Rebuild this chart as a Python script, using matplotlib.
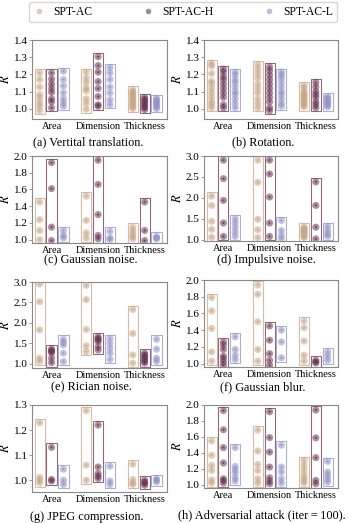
import matplotlib
matplotlib.use("Agg")
import matplotlib.pyplot as plt
from matplotlib.patches import Rectangle
from matplotlib.lines import Line2D

plt.rcParams['font.family'] = ['Liberation Serif', 'DejaVu Serif']
plt.rcParams['mathtext.fontset'] = 'stix'

categories = ["Area", "Dimension", "Thickness"]
series_names = ["SPT-AC", "SPT-AC-H", "SPT-AC-L"]
colors = ["#c8a686", "#6a3552", "#9393c6"]

# data[panel][category][series] -> list of R values
vert_translation = [
    [[1.208, 1.17, 1.127, 1.083, 1.062, 1.035, 1.014, 0.988],
     [1.208, 1.173, 1.144, 1.118, 1.095, 1.057, 1.04, 1.005],
     [1.218, 1.17, 1.132, 1.092, 1.057, 1.035, 1.014]],
    [[1.213, 1.178, 1.153, 1.121, 1.104, 1.057, 1.031, 0.997],
     [1.303, 1.251, 1.213, 1.158, 1.118, 1.071, 1.023, 1.014],
     [1.239, 1.208, 1.17, 1.127, 1.092, 1.052, 1.023]],
    [[1.11, 1.1, 1.09, 1.08, 1.07, 1.06, 1.05, 1.04, 1.03, 1.02, 1.01, 1.0],
     [1.065, 1.055, 1.045, 1.035, 1.025, 1.015, 1.005, 0.995],
     [1.06, 1.05, 1.04, 1.03, 1.02, 1.01, 1.0]],
]
rotation = [
    [[1.265, 1.248, 1.205, 1.161, 1.144, 1.118, 1.092, 1.066, 1.04, 1.023, 1.005],
     [1.23, 1.213, 1.187, 1.17, 1.144, 1.118, 1.092, 1.066, 1.023, 1.005],
     [1.213, 1.196, 1.17, 1.153, 1.127, 1.1, 1.083, 1.057, 1.031, 1.005]],
    [[1.256, 1.23, 1.205, 1.178, 1.144, 1.118, 1.092, 1.057, 1.031, 1.005],
     [1.243, 1.222, 1.196, 1.17, 1.144, 1.118, 1.092, 1.066, 1.04, 1.005, 0.988],
     [1.213, 1.196, 1.178, 1.153, 1.127, 1.1, 1.083, 1.057, 1.031, 1.014]],
    [[1.135, 1.12, 1.1, 1.09, 1.08, 1.07, 1.06, 1.05, 1.04, 1.03, 1.02, 1.01],
     [1.153, 1.127, 1.1, 1.083, 1.066, 1.04, 1.023, 1.005],
     [1.07, 1.06, 1.05, 1.04, 1.03, 1.02, 1.01]],
]
gaussian_noise = [
    [[1.45, 1.24, 1.11, 1.0],
     [1.92, 1.61, 1.15, 0.99],
     [1.11, 1.05, 1.02]],
    [[1.52, 1.23, 1.08, 1.02],
     [1.95, 1.66, 1.3, 1.05, 1.01],
     [1.1, 1.02, 1.0]],
    [[1.15, 1.11, 1.07, 1.04, 1.01],
     [1.45, 1.11, 0.99],
     [1.04, 1.02, 1.01]],
]
impulsive_noise = [
    [[2.04, 1.82, 1.44, 1.25, 1.06],
     [2.9, 2.46, 1.94, 1.4, 1.08],
     [1.5, 1.4, 1.29, 1.18, 1.08]],
    [[2.9, 2.37, 1.49, 1.24, 1.05],
     [2.9, 2.57, 2.02, 1.4, 1.08],
     [1.46, 1.22, 1.1, 1.02]],
    [[1.3, 1.27, 1.24, 1.21, 1.18, 1.15, 1.12, 1.08, 1.05],
     [2.38, 1.82, 1.3, 1.02],
     [1.32, 1.22, 1.14, 1.08]],
]
rician_noise = [
    [[2.95, 2.52, 1.83, 1.14, 1.06],
     [1.36, 1.33, 1.3, 1.27, 1.14, 1.03],
     [1.6, 1.53, 1.46, 1.26, 1.06]],
    [[2.92, 2.57, 1.84, 1.44, 1.3],
     [1.66, 1.62, 1.58, 1.55, 1.42, 1.34],
     [1.62, 1.5, 1.38, 1.26, 1.11]],
    [[2.33, 1.745, 1.22, 1.02],
     [1.26, 1.22, 1.18, 1.14, 1.1, 1.06, 1.02],
     [1.6, 1.36, 1.14, 1.06]],
]
gaussian_blur = [
    [[1.79, 1.63, 1.42, 1.14, 1.03],
     [1.26, 1.22, 1.17, 1.09, 1.06, 1.02, 0.98],
     [1.32, 1.17, 1.1, 1.05]],
    [[1.94, 1.83, 1.5, 1.17, 1.03],
     [1.45, 1.28, 1.12, 1.04, 0.98],
     [1.4, 1.26, 1.07]],
    [[1.51, 1.43, 1.27, 1.1, 1.03],
     [1.04, 1.02, 1.01],
     [1.14, 1.09, 1.04]],
]
jpeg_compression = [
    [[1.229, 1.011, 1.0, 0.989],
     [1.131, 1.003, 0.997],
     [1.044, 1.0, 0.983]],
    [[1.277, 1.06, 1.0],
     [1.22, 1.053, 1.027, 1.016, 1.007],
     [1.056, 0.997, 0.983]],
    [[1.064, 1.003, 0.989, 0.983],
     [1.0, 0.993, 0.987, 0.98],
     [1.007, 1.0, 0.993]],
]
adversarial_attack = [
    [[1.55, 1.37, 1.244, 1.18, 1.063, 1.021],
     [1.93, 1.69, 1.466, 1.273, 1.076, 1.055, 1.021],
     [1.466, 1.23, 1.19, 1.147, 1.088, 1.046]],
    [[1.685, 1.424, 1.256, 1.18, 1.076, 1.021],
     [1.916, 1.592, 1.41, 1.223, 1.088, 1.046, 1.013],
     [1.496, 1.223, 1.16, 1.076, 1.021]],
    [[1.307, 1.244, 1.19, 1.13, 1.088, 1.055, 1.021],
     [1.937, 1.588, 1.34, 1.055, 1.013],
     [1.294, 1.16, 1.118, 1.076, 1.034]],
]

panels = [vert_translation, rotation, gaussian_noise, impulsive_noise,
          rician_noise, gaussian_blur, jpeg_compression, adversarial_attack]
captions = ["(a) Vertital translation.", "(b) Rotation.", "(c) Gaussian noise.",
            "(d) Impulsive noise.", "(e) Rician noise.", "(f) Gaussian blur.",
            "(g) JPEG compression.", "(h) Adversarial attack (iter\u2009=\u2009100)."]
ylims = [(0.94, 1.4), (0.94, 1.4), (0.96, 2.0), (0.97, 3.0),
         (0.9, 3.0), (0.96, 2.0), (0.953, 1.3), (0.96, 2.0)]
yticks = [[1.0, 1.1, 1.2, 1.3, 1.4], [1.0, 1.1, 1.2, 1.3, 1.4],
          [1.0, 1.2, 1.4, 1.6, 1.8, 2.0], [1.0, 1.5, 2.0, 2.5, 3.0],
          [1.0, 1.5, 2.0, 2.5, 3.0], [1.0, 1.2, 1.4, 1.6, 1.8, 2.0],
          [1.0, 1.1, 1.2, 1.3], [1.0, 1.2, 1.4, 1.6, 1.8, 2.0]]

W, H = 349, 523
fig = plt.figure(figsize=(W / 100, H / 100), dpi=100)

# axes boxes in pixels: left, top, right, bottom
boxes = [(32, 40, 167, 119), (204, 40, 338, 119),
         (32, 156, 167, 243), (204, 156, 338, 241),
         (32, 282, 167, 368), (204, 280, 338, 367),
         (32, 405, 167, 492), (204, 405, 338, 488)]
cap_x = [88, 263, 91, 266, 91, 263, 87, 262]
cap_y = [142, 142, 260, 260, 387, 387, 517, 515]

offsets = [-0.255, 0.0, 0.255]
bw = 0.22
spine_col = "#888888"

for i, data in enumerate(panels):
    l, t, r, b = boxes[i]
    ax = fig.add_axes([l / W, 1 - b / H, (r - l) / W, (b - t) / H])
    y0, y1 = ylims[i]
    pad = 0.045 * (y1 - y0)
    for ci in range(3):
        for si in range(3):
            vals = data[ci][si]
            x = ci + offsets[si]
            ax.add_patch(Rectangle((x - bw / 2, min(vals) - pad), bw,
                                   max(vals) - min(vals) + 2 * pad,
                                   fill=False, edgecolor=colors[si], lw=0.8,
                                   alpha=0.75, zorder=2))
            ax.scatter([x] * len(vals), vals, s=26, color=colors[si],
                       alpha=0.55, edgecolors='none', zorder=3)
            ax.scatter([x] * len(vals), vals, s=7, color=colors[si],
                       alpha=0.9, marker='*', edgecolors='none', zorder=4)
    ax.set_xlim(-0.42, 2.48)
    ax.set_ylim(y0, y1)
    ax.set_yticks(yticks[i])
    ax.set_yticklabels([f"{v:.1f}" for v in yticks[i]])
    ax.set_xticks([0, 1, 2])
    ax.set_xticklabels(categories)
    ax.tick_params(axis='y', labelsize=8, length=2, width=0.6,
                   color=spine_col, pad=1.2)
    ax.tick_params(axis='x', labelsize=7.5, length=0, pad=2.5)
    for sp in ax.spines.values():
        sp.set_color(spine_col)
        sp.set_linewidth(0.8)
    ax.set_ylabel("$R$", fontsize=9, labelpad=1)
    fig.text(cap_x[i] / W, 1 - cap_y[i] / H, captions[i], ha='center',
             va='center', fontsize=8.8)

handles = [Line2D([], [], marker='o', ls='none', color=c, alpha=0.6,
                  markersize=4, markeredgewidth=0) for c in colors]
fig.legend(handles, series_names, loc='center', ncol=3,
           bbox_to_anchor=(183 / W, 1 - 12 / H), fontsize=8.4, frameon=True,
           edgecolor="#cccccc", fancybox=True, handletextpad=0.7,
           columnspacing=4.3, borderpad=0.35, handlelength=1.0)

fig.savefig("out.png", dpi=100)
